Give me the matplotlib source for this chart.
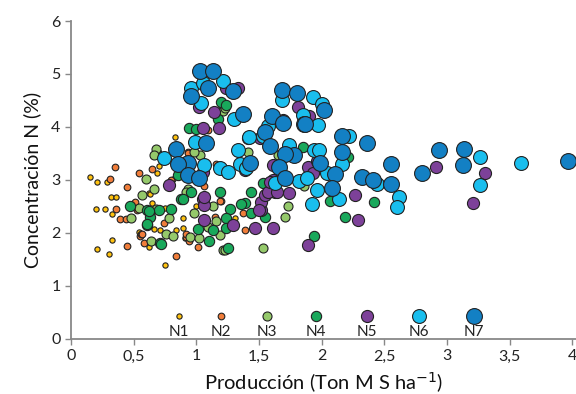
import matplotlib
matplotlib.use("Agg")
import matplotlib.pyplot as plt

plt.rcParams['font.family'] = ['Lato', 'DejaVu Sans']

# Producción (Ton MS/ha) y concentración N (%) por nivel
n1_x = [0.15, 0.21, 0.29, 0.32, 0.36, 0.20, 0.33, 0.33, 0.21, 0.30, 0.54, 0.62, 0.66, 0.65, 0.62,
        0.70, 0.83, 0.75, 0.89, 0.89, 0.75, 0.71, 0.84, 0.91, 1.00, 0.27, 0.63, 0.69, 0.81, 1.31, 0.97]
n1_y = [3.05, 2.97, 2.97, 2.68, 2.68, 2.45, 2.35, 1.87, 1.69, 1.60, 2.01, 1.73, 2.07, 2.57, 2.75,
        3.26, 3.82, 1.40, 2.28, 2.09, 2.47, 2.06, 2.06, 1.90, 2.50, 2.45, 2.74, 3.13, 3.01, 2.28, 2.39]

n2_x = [0.35, 0.31, 0.54, 0.65, 0.45, 0.36, 0.39, 0.53, 0.51, 0.45, 0.55, 0.58, 0.84, 0.74, 0.80,
        0.93, 1.01, 0.92, 0.94, 0.44, 0.56, 1.15, 1.39, 1.20, 1.09, 0.93, 1.16, 1.06, 1.19, 1.37,
        0.92, 0.57]
n2_y = [3.24, 3.02, 3.14, 3.20, 2.86, 2.45, 2.26, 2.43, 2.59, 1.75, 1.94, 1.82, 1.57, 2.18, 3.00,
        3.52, 1.74, 1.93, 1.85, 2.26, 1.98, 2.31, 2.06, 2.61, 3.94, 3.50, 3.31, 2.89, 2.61, 2.38,
        1.98, 1.99]

n3_x = [0.69, 0.60, 0.66, 0.57, 0.54, 0.48, 0.68, 0.78, 0.64, 0.76, 0.81, 1.09, 0.98, 0.95, 1.02,
        0.93, 1.03, 0.98, 0.68, 0.66, 1.16, 1.19, 1.13, 1.21, 1.53, 1.73, 1.71, 1.21, 1.41, 1.23,
        0.92, 1.65, 1.86, 1.21, 1.23]
n3_y = [3.50, 3.02, 2.83, 2.72, 2.47, 2.28, 2.45, 2.29, 1.85, 1.99, 1.94, 2.11, 2.37, 1.93, 1.90,
        2.83, 3.47, 3.52, 3.58, 3.47, 2.23, 1.96, 2.50, 1.68, 1.71, 2.50, 2.31, 4.35, 3.53, 1.68,
        2.78, 3.47, 2.89, 4.30, 4.36]

n4_x = [0.94, 1.00, 1.17, 1.20, 1.24, 1.85, 0.85, 0.88, 0.47, 0.61, 0.63, 0.61, 0.70, 0.80, 0.71,
        1.01, 0.96, 0.89, 1.19, 1.44, 1.27, 1.39, 1.44, 1.55, 1.24, 1.13, 1.10, 1.25, 1.94, 1.36,
        1.24, 0.72, 0.62, 0.61, 1.53, 2.07, 2.19, 2.42, 2.21]
n4_y = [3.99, 3.97, 4.16, 4.48, 4.42, 3.63, 3.09, 2.65, 2.50, 2.43, 2.31, 2.15, 2.43, 2.46, 1.82,
        2.07, 2.78, 2.65, 2.77, 2.77, 2.45, 2.56, 2.37, 2.31, 2.28, 2.06, 1.85, 1.71, 1.94, 2.55,
        2.09, 1.80, 2.42, 2.17, 2.94, 2.61, 2.31, 2.59, 3.43]

n5_x = [1.02, 1.33, 1.24, 1.14, 1.05, 1.18, 1.81, 1.69, 1.51, 1.61, 1.89, 1.96, 0.78, 1.05, 1.05,
        1.06, 1.06, 1.29, 1.47, 1.61, 1.52, 1.52, 1.55, 1.61, 1.63, 1.74, 1.89, 1.39, 1.41, 1.06,
        1.57, 1.64, 1.50, 1.59, 1.93, 2.27, 2.29, 2.91, 3.30, 3.21, 1.90]
n5_y = [4.38, 4.74, 4.73, 4.29, 3.99, 3.99, 4.38, 4.13, 3.79, 3.28, 3.25, 3.35, 2.91, 3.16, 2.65,
        2.53, 2.25, 2.15, 2.10, 2.10, 2.43, 2.59, 2.72, 3.00, 2.78, 2.75, 1.77, 3.19, 3.79, 2.68,
        2.78, 2.78, 2.43, 2.97, 3.13, 2.72, 2.25, 3.24, 3.14, 2.57, 4.20]

n6_x = [1.21, 0.96, 1.05, 1.04, 1.30, 1.68, 1.93, 1.85, 1.57, 1.42, 0.99, 1.33, 1.74, 1.06, 1.19,
        1.35, 0.74, 1.25, 1.40, 1.53, 1.82, 1.88, 1.92, 1.63, 1.94, 1.96, 2.00, 1.97, 2.22, 1.98,
        2.16, 2.04, 2.14, 2.44, 2.62, 2.60, 3.26, 3.26, 3.59]
n6_y = [4.87, 4.73, 4.83, 4.45, 4.16, 4.51, 4.57, 4.23, 4.01, 3.82, 3.72, 3.57, 3.66, 3.28, 3.22,
        3.31, 3.41, 3.16, 3.22, 3.83, 2.99, 3.03, 2.55, 2.94, 3.57, 2.81, 4.43, 4.04, 3.83, 3.57,
        3.31, 3.14, 2.64, 2.92, 2.67, 2.49, 3.44, 2.91, 3.33]

n7_x = [1.03, 1.13, 0.96, 1.09, 1.29, 1.68, 1.80, 1.60, 1.69, 1.86, 1.55, 1.08, 1.59, 1.78, 1.71,
        1.43, 1.66, 0.93, 0.84, 0.85, 0.93, 1.02, 2.02, 1.87, 2.16, 2.36, 2.16, 1.99, 2.11, 2.55,
        2.32, 2.41, 2.55, 2.08, 2.80, 2.94, 3.14, 3.13, 3.97, 1.37, 1.71]
n7_y = [5.06, 5.06, 4.59, 4.73, 4.67, 4.70, 4.65, 4.21, 4.07, 4.05, 3.90, 3.69, 3.64, 3.47, 3.49,
        3.33, 3.25, 3.33, 3.58, 3.31, 3.09, 3.04, 4.32, 4.06, 3.83, 3.70, 3.52, 3.33, 3.11, 3.31,
        3.06, 3.00, 2.92, 2.84, 3.14, 3.57, 3.58, 3.28, 3.36, 4.25, 3.03]

labels = ["N1", "N2", "N3", "N4", "N5", "N6", "N7"]
colors = ["#FFC20E", "#F07D3A", "#95C96B", "#19A85B", "#7D4199", "#19BEEE", "#1380C4"]
sizes = [3.8, 4.8, 6.5, 7.4, 8.7, 10.0, 11.4]
series = [(n1_x, n1_y), (n2_x, n2_y), (n3_x, n3_y), (n4_x, n4_y),
          (n5_x, n5_y), (n6_x, n6_y), (n7_x, n7_y)]
key_pos = [0.214, 0.297, 0.388, 0.485, 0.586, 0.689, 0.798]

fig = plt.figure(figsize=(5.76, 3.94), dpi=100)
ax = fig.add_axes([0.1233, 0.1396, 0.8767, 0.8071])

for i, (xs, ys) in enumerate(series):
    ax.scatter(xs, ys, s=sizes[i] ** 2, c=colors[i], edgecolors="#222222",
               linewidths=0.8, zorder=2 + i)
    # leyenda dentro del grafico
    ax.scatter([key_pos[i]], [0.072], s=sizes[i] ** 2, c=colors[i], edgecolors="#222222",
               linewidths=0.8, transform=ax.transAxes, zorder=10, clip_on=False)
    ax.text(key_pos[i], 0.022, labels[i], transform=ax.transAxes, ha="center", va="center",
            fontsize=11, color="#222222")

ax.set_xlim(0, 4.03)
ax.set_ylim(0, 6)
ax.set_xticks([0, 0.5, 1, 1.5, 2, 2.5, 3, 3.5, 4])
ax.set_xticklabels(["0", "0,5", "1", "1,5", "2", "2,5", "3", "3,5", "4"])
ax.set_yticks([0, 1, 2, 3, 4, 5, 6])
for s in ["top", "right"]:
    ax.spines[s].set_visible(False)
for s in ["left", "bottom"]:
    ax.spines[s].set_color("#888888")
    ax.spines[s].set_linewidth(1.3)
ax.tick_params(direction="out", length=4, width=1, color="#888888",
               labelsize=11.5, labelcolor="#222222")
ax.set_xlabel("Producción (Ton M S ha$^{-1}$)", fontsize=14.5, color="#111111", labelpad=5)
ax.set_ylabel("Concentración N (%)", fontsize=14, color="#111111", labelpad=7)

fig.savefig("out.png", dpi=100)
